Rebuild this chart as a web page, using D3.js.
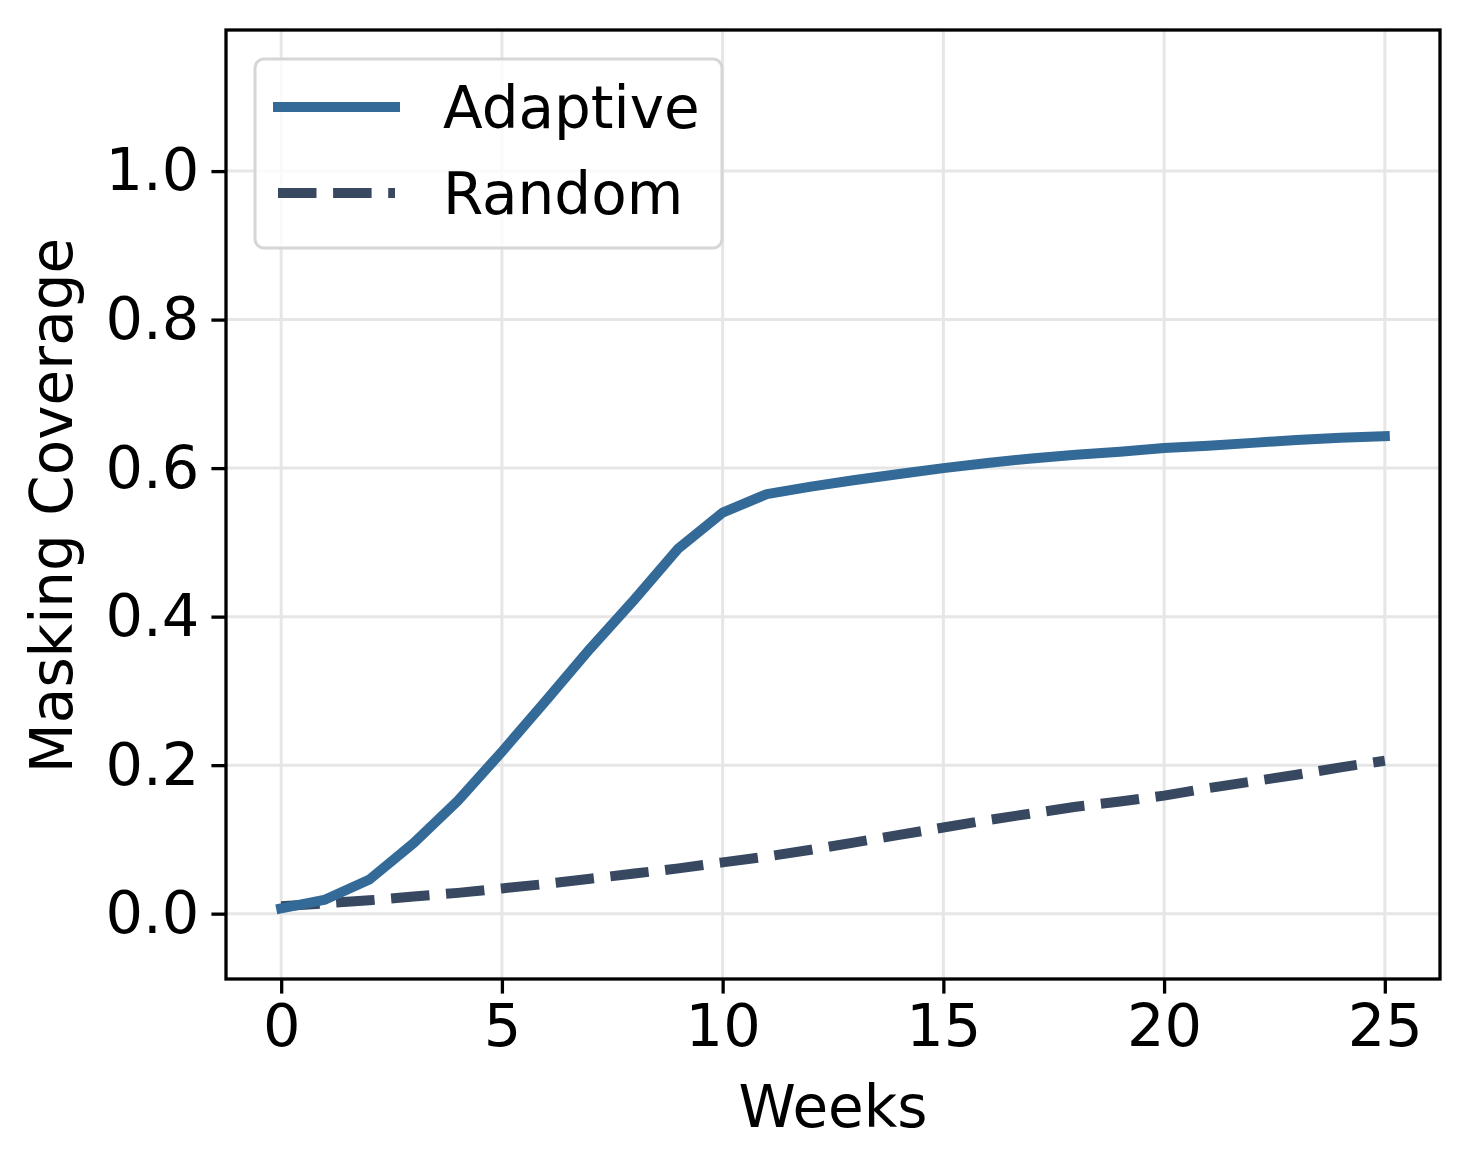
<!DOCTYPE html>
<html>
<head>
<meta charset="utf-8">
<script src="https://cdn.jsdelivr.net/npm/d3@7"></script>
<style>
  body { margin: 0; background: #fff; }
  text { font-family: "DejaVu Sans", sans-serif; fill: #000; }
</style>
</head>
<body>
<div id="chart"></div>
<script>
// data
var weeks = [0, 1, 2, 3, 4, 5, 6, 7, 8, 9, 10, 11, 12, 13, 14, 15, 16, 17, 18, 19, 20, 21, 22, 23, 24, 25];
var adaptive = [0.007, 0.019, 0.046, 0.095, 0.152, 0.218, 0.287, 0.357, 0.423, 0.492, 0.540, 0.565, 0.575,
  0.584, 0.592, 0.600, 0.607, 0.613, 0.618, 0.622, 0.627, 0.630, 0.634, 0.638, 0.641, 0.643];
var random = [0.010, 0.014, 0.018, 0.023, 0.028, 0.034, 0.040, 0.047, 0.054, 0.061, 0.069, 0.077, 0.086,
  0.096, 0.106, 0.116, 0.126, 0.135, 0.144, 0.151, 0.159, 0.169, 0.178, 0.187, 0.197, 0.206];
var xTicks = [0, 5, 10, 15, 20, 25];
var yTicks = [0.0, 0.2, 0.4, 0.6, 0.8, 1.0];
var seriesNames = ['Adaptive', 'Random'];

var W = 1469, H = 1170;
var margin = { top: 30, right: 29, bottom: 191, left: 226 },
  width = W - margin.left - margin.right,
  height = H - margin.top - margin.bottom;

var svg = d3.select('#chart').append('svg')
  .attr('width', W).attr('height', H);
var g = svg.append('g')
  .attr('transform', 'translate(' + margin.left + ',' + margin.top + ')');

var x = d3.scaleLinear().domain([-1.25, 26.25]).range([0, width]);
var y = d3.scaleLinear().domain([-0.088, 1.19]).range([height, 0]);

// grid
g.append('g').selectAll('line').data(xTicks).enter().append('line')
  .attr('x1', function (d) { return x(d); }).attr('x2', function (d) { return x(d); })
  .attr('y1', 0).attr('y2', height)
  .style('stroke', '#e6e6e6').style('stroke-width', 3);
g.append('g').selectAll('line').data(yTicks).enter().append('line')
  .attr('y1', function (d) { return y(d); }).attr('y2', function (d) { return y(d); })
  .attr('x1', 0).attr('x2', width)
  .style('stroke', '#e6e6e6').style('stroke-width', 3);

// lines
var pts = function (vals) { return weeks.map(function (w, i) { return [w, vals[i]]; }); };
var line = d3.line().x(function (d) { return x(d[0]); }).y(function (d) { return y(d[1]); });

g.append('path').datum(pts(random))
  .attr('d', line)
  .style('fill', 'none').style('stroke', '#374860').style('stroke-width', 10)
  .style('stroke-dasharray', '38.5,16.6').style('stroke-linejoin', 'round');

g.append('path').datum(pts(adaptive))
  .attr('d', line)
  .style('fill', 'none').style('stroke', '#336a98').style('stroke-width', 10)
  .style('stroke-linecap', 'square').style('stroke-linejoin', 'round');

// axes
var xAxis = g.append('g').attr('transform', 'translate(0,' + height + ')')
  .call(d3.axisBottom(x).tickValues(xTicks).tickSize(14.6).tickPadding(11).tickFormat(d3.format('d')));
var yAxis = g.append('g')
  .call(d3.axisLeft(y).tickValues(yTicks).tickSize(14.6).tickPadding(12).tickFormat(d3.format('.1f')));
[xAxis, yAxis].forEach(function (a) {
  a.select('.domain').remove();
  a.selectAll('line').style('stroke', '#000').style('stroke-width', 3.3);
  a.selectAll('text').style('font-size', '59px').style('font-family', '"DejaVu Sans", sans-serif');
});

// frame
g.append('rect').attr('width', width).attr('height', height)
  .style('fill', 'none').style('stroke', '#000').style('stroke-width', 3.3);

// axis labels
svg.append('text')
  .attr('x', margin.left + width / 2).attr('y', 1127)
  .attr('text-anchor', 'middle').style('font-size', '58px')
  .text('Weeks');
svg.append('text')
  .attr('transform', 'translate(72,' + (margin.top + height / 2 + 1) + ') rotate(-90)')
  .attr('text-anchor', 'middle').style('font-size', '58px')
  .text('Masking Coverage');

// legend
var lg = svg.append('g');
lg.append('rect')
  .attr('x', 255).attr('y', 59).attr('width', 467).attr('height', 189)
  .attr('rx', 9).attr('ry', 9)
  .style('fill', 'rgba(255,255,255,0.8)').style('stroke', '#d6d6d6').style('stroke-width', 3);
var legendStyles = [
  { color: '#336a98', dash: null, cap: 'square' },
  { color: '#374860', dash: '38.5,16.6', cap: 'butt' }
];
seriesNames.forEach(function (name, i) {
  var yy = 107 + i * 86;
  lg.append('line')
    .attr('x1', 278).attr('x2', 395).attr('y1', yy).attr('y2', yy)
    .style('stroke', legendStyles[i].color).style('stroke-width', 10)
    .style('stroke-linecap', legendStyles[i].cap)
    .style('stroke-dasharray', legendStyles[i].dash);
  lg.append('text')
    .attr('x', 443).attr('y', yy + 21)
    .style('font-size', '58px')
    .text(name);
});
</script>
</body>
</html>
